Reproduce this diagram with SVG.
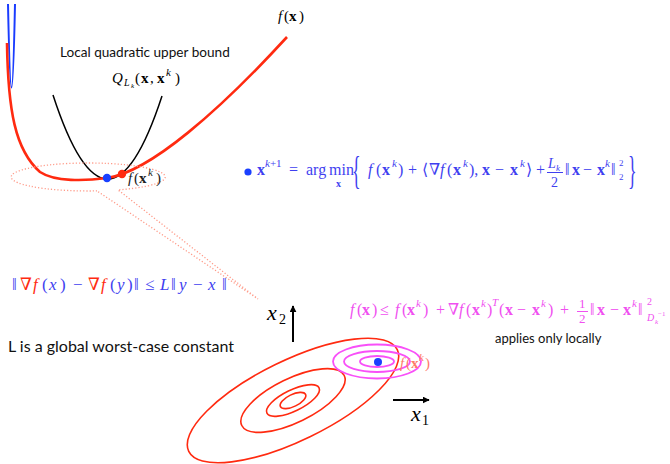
<svg xmlns="http://www.w3.org/2000/svg" width="670" height="464" viewBox="0 0 670 464">
<style>
.m{font-family:"Liberation Serif","DejaVu Serif",serif}
.i{font-style:italic}
.b{font-weight:bold}
.sans{font-family:Lato,"Open Sans",sans-serif;fill:#111}
.blue{fill:#3f3ff0}
.mag{fill:#f050f0}
.red{fill:#ff2a10}
.rc{fill:none;stroke:#ff2a10;stroke-width:1.6}
.mc{fill:none;stroke:#f850f8;stroke-width:1.8}
</style>
<defs>
<marker id="ah" viewBox="0 0 10 10" refX="9" refY="5" markerWidth="7" markerHeight="7" orient="auto" markerUnits="userSpaceOnUse">
<path d="M0,0 L10,5 L0,10 z" fill="#000"/>
</marker>
</defs>

<g id="curves">
<path id="q-curve" d="M53,95 Q107.5,262.5 162,96" fill="none" stroke="#000" stroke-width="1.5"/>
<path id="blue-curve" d="M8,4 Q11.5,171 15,4" fill="none" stroke="#1a3cff" stroke-width="2"/>
<path id="f-curve" d="M7,43 C8,110 15,150 40,172 C55,182 85,181 107,178 C150,172 220,110 287,37" fill="none" stroke="#ff2a10" stroke-width="2.6"/>
<path id="callout" d="M97,190.9 A77,14 0 1,1 118,189.9 L258,299 L97,190.9" fill="none" stroke="#ff9a88" stroke-width="1.3" stroke-dasharray="1.2 2"/>
</g>

<g id="points">
<circle cx="107" cy="178" r="4.2" fill="#1a40ff"/>
<circle cx="122" cy="174" r="4.2" fill="#ff2a10"/>
</g>

<g id="labels-top">
<text class="sans" x="60" y="57" font-size="13.6">Local quadratic upper bound</text>
<text class="m" font-size="15" y="83"><tspan class="i" x="112">Q</tspan><tspan class="i" x="124" y="86" font-size="10">L</tspan><tspan class="i" x="131" y="88" font-size="7">k</tspan><tspan x="135" y="83">(</tspan><tspan class="b" x="141">x</tspan><tspan x="150">,</tspan><tspan class="b" x="157">x</tspan><tspan class="i" x="166" y="76" font-size="11">k</tspan><tspan x="175" y="83">)</tspan></text>
<text class="m" font-size="15" y="21"><tspan class="i" x="278">f</tspan><tspan x="284">(</tspan><tspan class="b" x="289">x</tspan><tspan x="299">)</tspan></text>
<text class="m" font-size="15" y="183" fill="#222"><tspan class="i" x="128">f</tspan><tspan x="134">(</tspan><tspan class="b" x="139">x</tspan><tspan class="i" x="148" y="176" font-size="11">k</tspan><tspan x="156" y="183">)</tspan></text>
</g>

<g id="update-rule">
<circle cx="248" cy="172" r="3.6" fill="#1a40ff"/>
<text class="m blue" font-size="16" y="175"><tspan class="b" x="257">x</tspan><tspan font-size="11" x="265" y="167"><tspan class="i">k</tspan>+1</tspan><tspan x="289" y="175">=</tspan><tspan x="306">arg</tspan><tspan x="329">min</tspan></text>
<text class="m blue b" font-size="10" x="336" y="187">x</text>
<text class="m blue" font-size="40" transform="translate(352,184) scale(0.45,1)">{</text>
<text class="m blue" font-size="16" y="175"><tspan class="i" x="368">f</tspan><tspan x="376">(</tspan><tspan class="b" x="382">x</tspan><tspan class="i" font-size="11" x="392" y="167">k</tspan><tspan x="398" y="175">)</tspan><tspan x="408">+</tspan><tspan x="422">⟨</tspan><tspan x="429">∇</tspan><tspan class="i" x="440">f</tspan><tspan x="447">(</tspan><tspan class="b" x="453">x</tspan><tspan class="i" font-size="11" x="463" y="167">k</tspan><tspan x="469" y="175">),</tspan><tspan class="b" x="482">x</tspan><tspan x="495">−</tspan><tspan class="b" x="510">x</tspan><tspan class="i" font-size="11" x="520" y="167">k</tspan><tspan x="526" y="175">⟩</tspan><tspan x="536">+</tspan></text>
<text class="m blue" font-size="14" y="168"><tspan class="i" x="548">L</tspan><tspan class="i" font-size="9" x="556" y="171">k</tspan></text>
<line x1="547" y1="172.5" x2="563" y2="172.5" stroke="#3f3ff0" stroke-width="1"/>
<text class="m blue" font-size="14" x="551" y="187">2</text>
<text class="m blue" font-size="16" y="175"><tspan x="565">‖</tspan><tspan class="b" x="572">x</tspan><tspan x="583">−</tspan><tspan class="b" x="597">x</tspan><tspan class="i" font-size="11" x="605" y="167">k</tspan><tspan x="611" y="175">‖</tspan><tspan font-size="9" x="619" y="166">2</tspan><tspan font-size="9" x="619" y="180">2</tspan></text>
<text class="m blue" font-size="40" transform="translate(628,184) scale(0.45,1)">}</text>
</g>

<g id="lipschitz">
<text class="m blue" font-size="17" y="290"><tspan x="12">‖</tspan><tspan class="red" x="20">∇</tspan><tspan class="i red" x="33">f</tspan><tspan x="42">(</tspan><tspan class="i" x="49">x</tspan><tspan x="60">)</tspan><tspan x="73">−</tspan><tspan class="red" x="88">∇</tspan><tspan class="i red" x="101">f</tspan><tspan x="110">(</tspan><tspan class="i" x="117">y</tspan><tspan x="127">)</tspan><tspan x="134">‖</tspan><tspan x="145">≤</tspan><tspan class="i" x="160">L</tspan><tspan x="171">‖</tspan><tspan class="i" x="179">y</tspan><tspan x="193">−</tspan><tspan class="i" x="208">x</tspan><tspan x="222">‖</tspan></text>
<text class="sans" x="8" y="352" font-size="16">L is a global worst-case constant</text>
</g>

<g id="local-bound">
<text class="m mag" font-size="16" y="315"><tspan class="i" x="350">f</tspan><tspan x="357">(</tspan><tspan class="b" x="362">x</tspan><tspan x="372">)</tspan><tspan x="380">≤</tspan><tspan class="i" x="395">f</tspan><tspan x="402">(</tspan><tspan class="b" x="407">x</tspan><tspan class="i" font-size="11" x="416" y="307">k</tspan><tspan x="423" y="315">)</tspan><tspan x="436">+</tspan><tspan x="448">∇</tspan><tspan class="i" x="459">f</tspan><tspan x="466">(</tspan><tspan class="b" x="472">x</tspan><tspan class="i" font-size="11" x="481" y="307">k</tspan><tspan x="487" y="315">)</tspan><tspan class="i" font-size="11" x="492" y="306">T</tspan><tspan x="499" y="315">(</tspan><tspan class="b" x="505">x</tspan><tspan x="517">−</tspan><tspan class="b" x="532">x</tspan><tspan class="i" font-size="11" x="541" y="307">k</tspan><tspan x="548" y="315">)</tspan><tspan x="560">+</tspan></text>
<text class="m mag" font-size="13" x="579" y="308">1</text>
<line x1="577" y1="311.5" x2="588" y2="311.5" stroke="#f050f0" stroke-width="1"/>
<text class="m mag" font-size="13" x="579" y="323">2</text>
<text class="m mag" font-size="16" y="315"><tspan x="590">‖</tspan><tspan class="b" x="597">x</tspan><tspan x="610">−</tspan><tspan class="b" x="623">x</tspan><tspan class="i" font-size="11" x="632" y="307">k</tspan><tspan x="638" y="315">‖</tspan><tspan font-size="10" x="647" y="305">2</tspan><tspan class="i" font-size="10" x="647" y="321">D</tspan><tspan class="i" font-size="7" x="655" y="324">k</tspan><tspan font-size="7" x="658" y="316">−1</tspan></text>
<text class="sans" x="495" y="343" font-size="13">applies only locally</text>
</g>

<g id="contours">
<g transform="translate(293,400.5) rotate(-26)">
<ellipse class="rc" rx="116" ry="40"/>
<ellipse class="rc" rx="57" ry="22"/>
<ellipse class="rc" rx="29" ry="10.5"/>
<ellipse class="rc" rx="14" ry="6"/>
</g>
<ellipse class="mc" cx="377" cy="361.5" rx="44" ry="17"/>
<ellipse class="mc" cx="377" cy="361.5" rx="33" ry="10.5"/>
<ellipse class="mc" cx="377" cy="361.5" rx="17" ry="5.5"/>
<circle cx="378" cy="362" r="4" fill="#1a40ff"/>
<text class="m" font-size="15" y="368" fill="#ff7a6a"><tspan class="i" x="400">f</tspan><tspan x="406">(</tspan><tspan class="b" x="411">x</tspan><tspan class="i" font-size="11" x="419" y="361">k</tspan><tspan x="425" y="368">)</tspan></text>
</g>

<g id="axes">
<line x1="293" y1="342" x2="293" y2="306" stroke="#000" stroke-width="2" marker-end="url(#ah)"/>
<line x1="393" y1="400" x2="429" y2="400" stroke="#000" stroke-width="2" marker-end="url(#ah)"/>
<text class="m" font-size="22" y="320"><tspan class="i" x="267">x</tspan><tspan font-size="14" x="279" y="324">2</tspan></text>
<text class="m" font-size="22" y="421"><tspan class="i" x="411">x</tspan><tspan font-size="14" x="422" y="425">1</tspan></text>
</g>
</svg>
